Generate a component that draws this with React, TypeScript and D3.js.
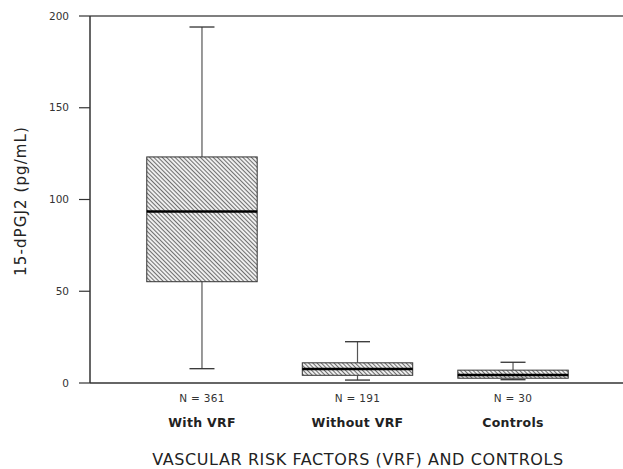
import React from "react";
import * as d3 from "d3";

const categories = ["With VRF", "Without VRF", "Controls"];
const nLabels = ["N = 361", "N = 191", "N = 30"];
const whiskerLow = [7.8, 1.6, 1.8];
const q1 = [55.2, 4.2, 2.6];
const median = [93.5, 7.6, 4.3];
const q3 = [123.2, 11.0, 7.0];
const whiskerHigh = [194, 22.5, 11.3];
const yTicks = [0, 50, 100, 150, 200];

const W = 623;
const H = 469;
const left = 90;
const top = 16;
const bottom = 383;
const right = 625;

export default function App() {
  const y = d3.scaleLinear().domain([0, 200]).range([bottom, top]);
  const x = d3.scalePoint<string>().domain(categories).range([left, right]).padding(0.72);
  const step = x.step();
  const boxW = step * 0.71;
  const capW = 25;
  const font = "'DejaVu Sans', Verdana, sans-serif";

  return (
    <svg width={W} height={H} style={{ position: "absolute", left: 0, top: 0 }}>
      <defs>
        <pattern id="hatch" patternUnits="userSpaceOnUse" width="3" height="3" patternTransform="rotate(-45)">
          <rect width="3" height="3" fill="#eee" />
          <line x1="0" y1="0" x2="0" y2="3" stroke="#444" strokeWidth="1.5" />
        </pattern>
      </defs>
      <rect width={W} height={H} fill="#fff" />
      <line x1={left} x2={W} y1={top} y2={top} stroke="#555" strokeWidth={1.5} />
      <line x1={left} x2={W} y1={bottom} y2={bottom} stroke="#333" strokeWidth={1.5} />
      <line x1={left} x2={left} y1={top} y2={bottom} stroke="#333" strokeWidth={1.5} />
      {yTicks.map((t) => (
        <g key={t}>
          <line x1={left - 11} x2={left} y1={y(t)} y2={y(t)} stroke="#333" strokeWidth={1.2} />
          <text x={left - 21} y={y(t)} dy="0.35em" textAnchor="end" fontFamily={font} fontSize={10.5} fill="#333">
            {t}
          </text>
        </g>
      ))}
      <text
        transform={`translate(26,201) rotate(-90)`}
        textAnchor="middle"
        fontFamily={font}
        fontSize={15}
        letterSpacing={1.1}
        fill="#222"
      >
        15-dPGJ2 (pg/mL)
      </text>
      {categories.map((c, i) => {
        const cx = x(c)!;
        return (
          <g key={c}>
            <line x1={cx} x2={cx} y1={y(whiskerHigh[i])} y2={y(q3[i])} stroke="#555" strokeWidth={1.2} />
            <line x1={cx} x2={cx} y1={y(q1[i])} y2={y(whiskerLow[i])} stroke="#555" strokeWidth={1.2} />
            <line x1={cx - capW / 2} x2={cx + capW / 2} y1={y(whiskerHigh[i])} y2={y(whiskerHigh[i])} stroke="#333" strokeWidth={1.3} />
            <line x1={cx - capW / 2} x2={cx + capW / 2} y1={y(whiskerLow[i])} y2={y(whiskerLow[i])} stroke="#333" strokeWidth={1.3} />
            <rect
              x={cx - boxW / 2}
              y={y(q3[i])}
              width={boxW}
              height={y(q1[i]) - y(q3[i])}
              fill="url(#hatch)"
              stroke="#333"
              strokeWidth={1}
            />
            <line x1={cx - boxW / 2} x2={cx + boxW / 2} y1={y(median[i])} y2={y(median[i])} stroke="#000" strokeWidth={2.5} />
            <text x={cx} y={398} dy="0.35em" textAnchor="middle" fontFamily={font} fontSize={10.5} letterSpacing={0.3} fill="#333">
              {nLabels[i]}
            </text>
            <text x={cx} y={423} dy="0.35em" textAnchor="middle" fontFamily={font} fontSize={12.5} fontWeight="bold" letterSpacing={0.3} fill="#222">
              {c}
            </text>
          </g>
        );
      })}
      <text x={358} y={459} dy="0.35em" textAnchor="middle" fontFamily={font} fontSize={16} letterSpacing={0.6} fill="#222">
        VASCULAR RISK FACTORS (VRF) AND CONTROLS
      </text>
    </svg>
  );
}
